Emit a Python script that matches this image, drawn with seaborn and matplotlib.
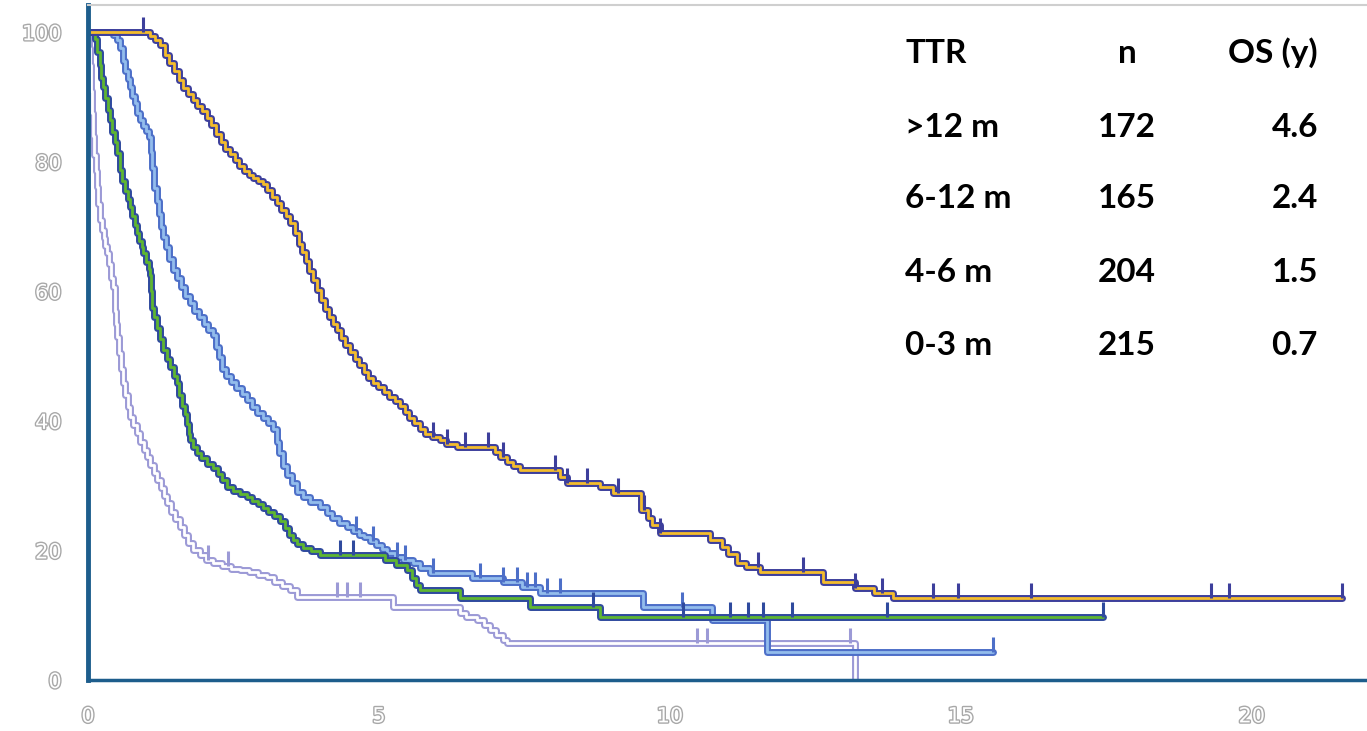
import numpy as np
import pandas as pd
import matplotlib
matplotlib.use("Agg")
import matplotlib.pyplot as plt
import matplotlib.patheffects as pe
import seaborn as sns

# Kaplan-Meier step data: time (years) and survival (%) after each step
gt12_t = [0, 1.07, 1.15, 1.24, 1.32, 1.40, 1.48, 1.56, 1.64, 1.72, 1.80, 1.88, 1.96, 2.04, 2.12,
          2.20, 2.28, 2.36, 2.44, 2.52, 2.60, 2.68, 2.76, 2.84, 2.92, 3.00, 3.08, 3.16, 3.24,
          3.32, 3.40, 3.48, 3.55, 3.62, 3.68, 3.74, 3.80, 3.86, 3.93, 4.00, 4.07, 4.14, 4.21,
          4.28, 4.35, 4.42, 4.50, 4.58, 4.66, 4.74, 4.82, 4.90, 4.98, 5.08, 5.18, 5.28, 5.36,
          5.44, 5.52, 5.60, 5.70, 5.80, 5.92, 6.05, 6.15, 6.34, 7.00, 7.08, 7.20, 7.30, 7.42,
          8.12, 8.23, 8.80, 9.02, 9.50, 9.62, 9.70, 9.83, 10.69, 10.90, 11.00, 11.15, 11.30,
          11.55, 12.63, 13.18, 13.50, 13.83, 21.55]
gt12_s = [100, 99.4, 98.8, 98, 96.5, 95.2, 94, 92.6, 91.4, 90.5, 89.6, 88.6, 87.8, 86.8, 85.6,
          84.3, 83, 82, 81.2, 80.3, 79.3, 78.6, 78, 77.5, 77, 76.5, 75.6, 74.6, 73.6,
          72.6, 71.6, 70.5, 69, 67.3, 66, 64.7, 63.2, 61.8, 60.2, 58.6, 57.3, 56, 55,
          54, 52.8, 51.7, 50.6, 49.6, 48.6, 47.6, 46.6, 45.8, 45.2, 44.5, 43.7, 43, 42.3,
          41.4, 40.5, 39.6, 38.7, 38, 37.5, 37, 36.5, 36, 35.2, 34.4, 33.6, 33, 32.4,
          31.4, 30.4, 29.8, 28.9, 26.2, 25, 24, 22.7, 21.6, 20.5, 19.5, 18.1, 17.4,
          16.7, 15.1, 14.2, 13.5, 12.7, 12.7]
gt12_cens = [0.95, 5.93, 6.17, 6.48, 6.87, 7.13, 8.02, 8.23, 8.57, 9.1, 9.55, 9.83,
             11.51, 12.29, 13.18, 13.64, 14.52, 14.95, 16.2, 19.3, 19.6, 21.55]

m6_12_t = [0, 0.43, 0.50, 0.55, 0.60, 0.64, 0.68, 0.72, 0.76, 0.80, 0.85, 0.89, 0.95, 1.00,
           1.05, 1.08, 1.10, 1.14, 1.18, 1.22, 1.26, 1.29, 1.34, 1.40, 1.46, 1.53, 1.60, 1.67,
           1.75, 1.83, 1.91, 1.99, 2.07, 2.15, 2.20, 2.25, 2.30, 2.38, 2.46, 2.55, 2.64, 2.73,
           2.82, 2.91, 3.00, 3.10, 3.18, 3.24, 3.29, 3.35, 3.42, 3.50, 3.59, 3.70, 3.82, 3.99,
           4.10, 4.20, 4.32, 4.45, 4.55, 4.65, 4.75, 4.85, 4.95, 5.05, 5.14, 5.28, 5.42, 5.58,
           5.70, 5.88, 6.60, 7.13, 7.45, 7.77, 9.54, 10.72, 11.67, 15.55]
m6_12_s = [100, 99.5, 98.8, 97.5, 95.5, 94, 92.8, 91.5, 90.2, 89, 87.6, 86.4, 85.5, 84.8,
           83.8, 81.5, 79, 76, 74, 72, 70, 68.4, 66.8, 65, 63.3, 62, 60.6, 59.3,
           58.2, 57, 56, 55, 54, 53.2, 51.4, 49.8, 48, 46.9, 46, 45, 44.2, 43.2,
           42.2, 41.2, 40.4, 39.6, 38.8, 36.8, 35, 33, 31.6, 30.4, 29, 28.2, 27.5, 26.7,
           25.8, 25, 24.3, 23.6, 23, 22.4, 22, 21.5, 20.8, 20.2, 19.6, 19, 18.5, 18,
           17.3, 16.5, 15.8, 15.1, 14.3, 13.4, 11.3, 9.3, 4.3, 4.3]
m6_12_cens = [4.6, 4.9, 5.31, 5.45, 5.93, 6.74, 7.13, 7.37, 7.54, 7.68, 7.89, 8.11, 10.2, 15.55]

m4_6_t = [0, 0.12, 0.16, 0.20, 0.23, 0.26, 0.30, 0.34, 0.38, 0.42, 0.46, 0.50, 0.55, 0.59,
          0.63, 0.68, 0.72, 0.76, 0.80, 0.84, 0.88, 0.92, 0.95, 1.00, 1.04, 1.07, 1.09, 1.10,
          1.13, 1.18, 1.23, 1.29, 1.35, 1.41, 1.47, 1.53, 1.57, 1.62, 1.67, 1.70, 1.73, 1.76,
          1.80, 1.87, 1.95, 2.05, 2.15, 2.23, 2.31, 2.39, 2.50, 2.62, 2.73, 2.82, 2.92, 3.01,
          3.10, 3.20, 3.30, 3.38, 3.46, 3.52, 3.59, 3.70, 3.83, 3.99, 5.10, 5.30, 5.48, 5.56,
          5.63, 5.70, 6.39, 7.59, 8.80, 17.44]
m4_6_s = [100, 99, 97, 95, 93, 91.5, 89.8, 88, 86.4, 84.6, 83, 81.3, 78.8, 77,
          75.5, 74.2, 73, 71.6, 70.2, 69, 67.8, 66.8, 65.9, 64.6, 63.5, 62.5, 60, 57.5,
          56, 54.3, 52.6, 50.9, 49.6, 48.3, 47, 45.8, 44, 42.3, 41, 39.5, 38, 37,
          36, 35, 34.2, 33.4, 32.8, 31.8, 30.8, 29.8, 29.2, 28.7, 28.2, 27.6, 27.1, 26.6,
          26, 25.3, 24.6, 23.5, 22.4, 21.6, 21, 20.4, 19.9, 19.3, 18.5, 17.8, 17, 15.8,
          14.7, 13.9, 12.7, 11.3, 9.7, 9.7]
m4_6_cens = [4.33, 4.55, 8.68, 10.22, 11.03, 11.34, 11.6, 12.1, 13.73, 17.44]

m0_3_t = [0, 0.01, 0.02, 0.03, 0.05, 0.07, 0.09, 0.11, 0.13, 0.15, 0.18, 0.21, 0.24, 0.27,
          0.30, 0.33, 0.36, 0.40, 0.43, 0.46, 0.48, 0.50, 0.53, 0.56, 0.60, 0.64, 0.68, 0.72,
          0.78, 0.84, 0.90, 0.96, 1.01, 1.07, 1.13, 1.19, 1.25, 1.30, 1.36, 1.43, 1.50, 1.58,
          1.65, 1.72, 1.80, 1.92, 2.03, 2.15, 2.30, 2.45, 2.61, 2.76, 2.92, 3.08, 3.20, 3.33,
          3.47, 3.59, 5.24, 6.39, 6.50, 6.68, 6.80, 6.91, 7.02, 7.13, 7.20, 13.18]
m0_3_s = [100, 99.5, 97.5, 95, 91, 87.5, 84, 81, 78.5, 76.1, 73.5, 71, 69.5, 68.2,
          67, 65.9, 64.2, 62, 60.6, 57, 55, 52.9, 50.5, 48, 45.8, 44, 42.2, 40.6,
          39.4, 38.1, 36.8, 35.5, 34.4, 33.2, 32, 30.9, 29.6, 28.4, 27.3, 26, 24.8, 23.6,
          22.4, 21.2, 20.1, 19.3, 18.6, 18.1, 17.6, 17.2, 17, 16.6, 16.2, 15.9, 15.2, 14.5,
          13.9, 12.8, 11.3, 10.3, 9.8, 9.3, 8.5, 7.7, 6.9, 6.2, 5.7, 0]
m0_3_cens = [2.06, 2.4, 4.28, 4.45, 4.67, 10.46, 10.63, 13.1]

groups = ["0-3 m", "6-12 m", "4-6 m", ">12 m"]
table_ttr = [">12 m", "6-12 m", "4-6 m", "0-3 m"]
table_n = ["172", "165", "204", "215"]
table_os = ["4.6", "2.4", "1.5", "0.7"]

curves = {
    "0-3 m": (m0_3_t, m0_3_s, m0_3_cens, "#9c9ad6", "white"),
    "6-12 m": (m6_12_t, m6_12_s, m6_12_cens, "#4d6fc8", "#93bdec"),
    "4-6 m": (m4_6_t, m4_6_s, m4_6_cens, "#2f4a9e", "#5fb631"),
    ">12 m": (gt12_t, gt12_s, gt12_cens, "#3d3f9c", "#f4bd2c"),
}

sns.set_style("white")
fig = plt.figure(figsize=(13.67, 7.31), dpi=100)
ax = fig.add_axes([88 / 1367, 51 / 731, 1279 / 1367, 675 / 731])

for g in groups:
    t, s, cens, edge, inner = curves[g]
    df = pd.DataFrame({"time": t, "surv": s})
    sns.lineplot(data=df, x="time", y="surv", estimator=None, sort=False,
                 drawstyle="steps-post", color=edge, linewidth=5, ax=ax)
    sns.lineplot(data=df, x="time", y="surv", estimator=None, sort=False,
                 drawstyle="steps-post", color=inner, linewidth=2, ax=ax)
    # censoring marks sit on the step level
    idx = np.searchsorted(np.array(t), np.array(cens), side="right") - 1
    lvl = np.array(s)[idx]
    ax.plot(cens, lvl, linestyle="none", marker=2, markersize=11, mew=2.2, color=edge)

ax.set_xlim(0, 21.98)
ax.set_ylim(0, 104.2)
ax.set_xticks([0, 5, 10, 15, 20])
ax.set_yticks([0, 20, 40, 60, 80, 100])
ax.set_xlabel("")
ax.set_ylabel("")

for side in ["left", "bottom"]:
    ax.spines[side].set_color("#1d5d8c")
ax.spines["left"].set_linewidth(3.5)
ax.spines["bottom"].set_linewidth(2.5)
ax.spines["top"].set_color("#cfcfcf")
ax.spines["top"].set_linewidth(1.5)
ax.spines["right"].set_visible(False)

ax.tick_params(axis="both", direction="out", color="#1d5d8c", width=3, length=7,
               labelsize=15, labelcolor="white")
ax.tick_params(axis="x", pad=12)
ax.tick_params(axis="y", pad=12)
for lbl in ax.get_xticklabels() + ax.get_yticklabels():
    lbl.set_path_effects([pe.withStroke(linewidth=2, foreground="#a8a8a8")])

# summary table in the top right
font = dict(family=["Lato", "DejaVu Sans"], fontweight="bold", fontsize=24, color="black")
fig.text(905 / 1367, 1 - 63 / 731, "TTR", ha="left", va="baseline", **font)
fig.text(1127 / 1367, 1 - 63 / 731, "n", ha="center", va="baseline", **font)
fig.text(1318 / 1367, 1 - 63 / 731, "OS (y)", ha="right", va="baseline", **font)
rows_y = [137, 208, 282, 355]
for ttr, n, os_, py in zip(table_ttr, table_n, table_os, rows_y):
    fig.text(905 / 1367, 1 - py / 731, ttr, ha="left", va="baseline", **font)
    fig.text(1127 / 1367, 1 - py / 731, n, ha="center", va="baseline", **font)
    fig.text(1318 / 1367, 1 - py / 731, os_, ha="right", va="baseline", **font)

fig.savefig("out.png", dpi=100)
